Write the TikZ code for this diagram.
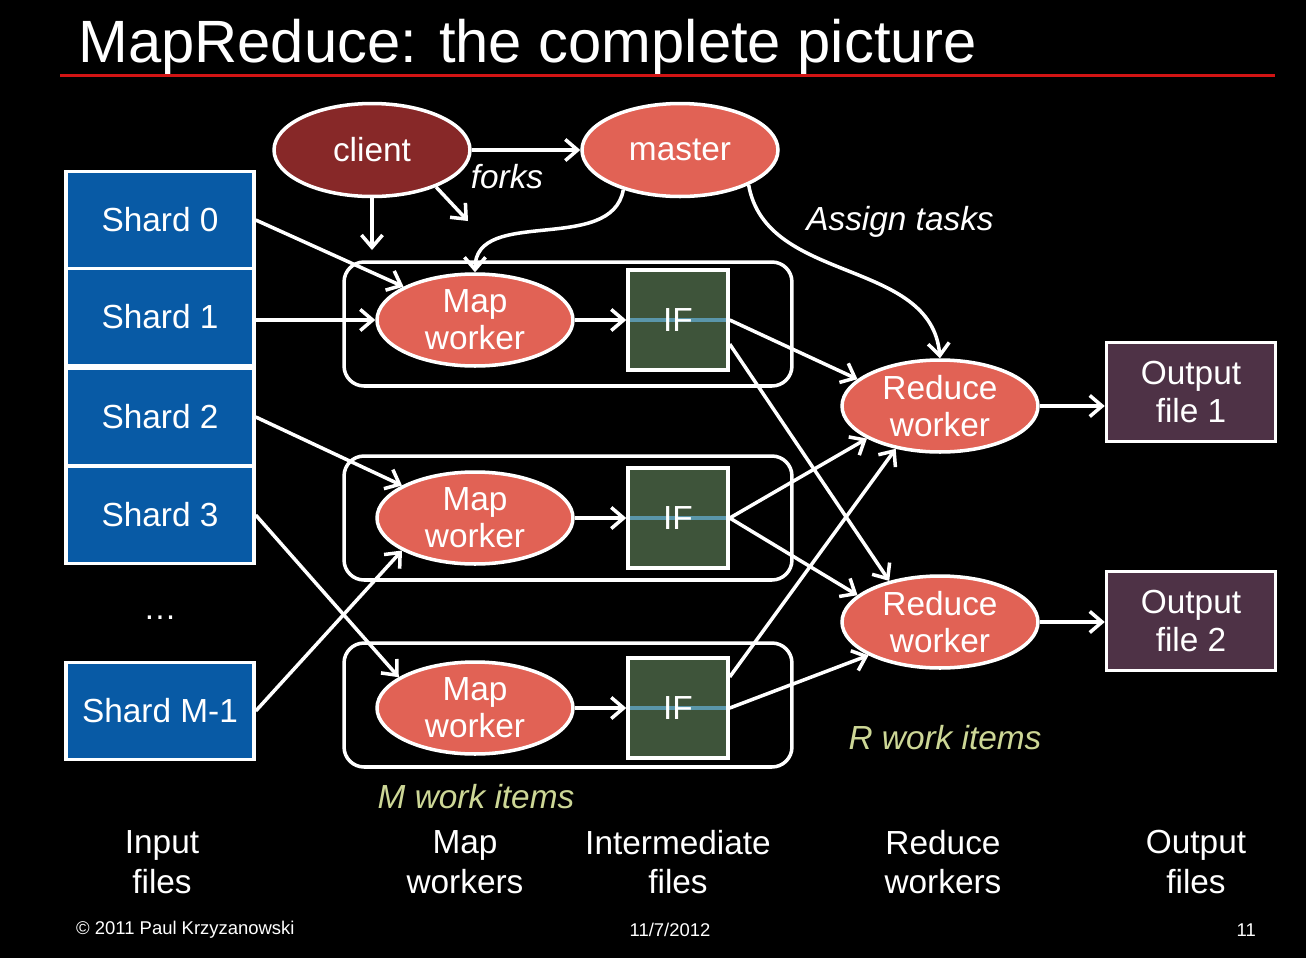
\documentclass[tikz,border=0pt]{standalone}
\usepackage{fontspec}
\setmainfont{Liberation Sans}
\usetikzlibrary{shapes.geometric,arrows.meta}
\definecolor{shardblue}{RGB}{8,90,165}
\definecolor{clientred}{RGB}{135,40,40}
\definecolor{salmon}{RGB}{225,98,85}
\definecolor{ifgreen}{RGB}{62,84,58}
\definecolor{ifline}{RGB}{90,150,170}
\definecolor{outpurple}{RGB}{78,50,70}
\definecolor{rule}{RGB}{210,20,20}
\definecolor{items}{RGB}{205,215,150}
\newcommand{\bodyfont}{\fontsize{19}{21}\selectfont}
\tikzset{flow/.style={white,line width=2pt,-{Straight Barb[length=7pt,width=12pt]}}}
\tikzset{shard/.style={draw=white,line width=2pt,fill=shardblue,minimum width=3.76cm,minimum height=1.94cm,inner sep=0,text=white,font=\bodyfont}}
\tikzset{blob/.style={ellipse,draw=white,line width=2pt,fill=salmon,minimum width=3.92cm,minimum height=1.84cm,inner sep=0,text=white,align=center,font=\bodyfont}}
\tikzset{group/.style={draw=white,line width=2pt,rounded corners=0.4cm,minimum width=8.96cm,minimum height=2.48cm}}
\tikzset{ifbox/.style={draw=white,line width=2pt,fill=ifgreen,minimum size=2cm,inner sep=0,text=white,font=\bodyfont,
  path picture={\draw[ifline,line width=2.6pt] (path picture bounding box.west) -- (path picture bounding box.east);}}}
\tikzset{outbox/.style={draw=white,line width=2pt,fill=outpurple,minimum width=3.38cm,minimum height=1.98cm,inner sep=0,text=white,align=center,font=\fontsize{19}{22}\selectfont}}
\tikzset{caption/.style={text=white,align=center,font=\fontsize{19}{22.7}\selectfont}}

\begin{document}
\begin{tikzpicture}[x=0.02cm,y=-0.02cm]
	\fill [black] (0,0) rectangle (1306,958);
	\node [anchor=base west,inner sep=0,text=white,font=\fontsize{34}{40}\selectfont] (title) at (78,62) {MapReduce: the complete picture};
	\draw [rule,line width=1.7pt] (60,75) -- (1275,75);

	% the three map groups
	\node [group] (g1) at (568,324) {};
	\node [group] (g2) at (568,518) {};
	\node [group] (g3) at (568,705) {};

	\node [shard] (s0) at (160,220) {Shard 0};
	\node [shard] (s1) at (160,317) {Shard 1};
	\node [shard] (s2) at (160,417) {Shard 2};
	\node [shard] (s3) at (160,515) {Shard 3};
	\node [text=white,font=\bodyfont] (dots) at (160,618) {…};
	\node [shard] (sm) at (160,711) {Shard M-1};

	\node [blob,fill=clientred,minimum height=1.86cm] (client) at (372,150) {client};
	\node [blob,minimum height=1.86cm] (master) at (680,150) {master};
	\coordinate (fk1) at (372,250);
	\coordinate (fk2) at (468,221);
	\node [text=white,font=\bodyfont\itshape] (forks) at (507,177) {forks};
	\node [text=white,font=\bodyfont\itshape] (assign) at (900,222) {Assign tasks};

	\node [blob] (map1) at (475,320) {Map\\worker};
	\node [blob] (map2) at (475,518) {Map\\worker};
	\node [blob] (map3) at (475,708) {Map\\worker};
	\node [ifbox] (if1) at (678,320) {IF};
	\node [ifbox] (if2) at (678,518) {IF};
	\node [ifbox] (if3) at (678,708) {IF};
	\node [blob] (red1) at (940,406) {Reduce\\worker};
	\node [blob] (red2) at (940,622) {Reduce\\worker};
	\node [outbox] (out1) at (1191,392) {Output\\file 1};
	\node [outbox] (out2) at (1191,621) {Output\\file 2};

	\node [text=items,font=\bodyfont\itshape] (ritems) at (945,738) {R work items};
	\node [text=items,font=\bodyfont\itshape] (mitems) at (476,797) {M work items};

	\draw [flow] (client.east) -- (master.west);
	\draw [flow] (client.south) -- (fk1);
	\draw [flow] (client.-30) -- (fk2);
	\draw [flow] (master.215) to[out=-100,in=90] (map1.north);
	\draw [flow] (master.-27) to[out=-80,in=95] (red1.north);

	\draw [flow] (s0.east) -- (map1.155);
	\draw [flow] (map1.west -| s1.east) -- (map1.west);
	\draw [flow] (s2.east) -- (map2.156);
	\draw [flow] (s3.east) -- (map3.158);
	\draw [flow] (sm.east) -- (map2.204);
	\draw [flow] (map1.east) -- (if1.west);
	\draw [flow] (map2.east) -- (if2.west);
	\draw [flow] (map3.east) -- (if3.west);

	\draw [flow] (if1.east) -- (red1.162);
	\draw [flow] (if1.-25) -- (red2.141);
	\draw [flow] (if2.east) -- (red1.204);
	\draw [flow] (if2.east) -- (red2.162);
	\draw [flow] (if3.31) -- (red1.224);
	\draw [flow] (if3.east) -- (red2.205);
	\draw [flow] (red1.east) -- (red1.east -| out1.west);
	\draw [flow] (red2.east) -- (red2.east -| out2.west);

	\node [caption] (cin) at (162,862) {Input\\files};
	\node [caption] (cmap) at (465,862) {Map\\workers};
	\node [caption] (cif) at (678,862) {Intermediate\\files};
	\node [caption] (cred) at (943,862) {Reduce\\workers};
	\node [caption] (cout) at (1196,862) {Output\\files};

	\node [anchor=west,text=white,font=\fontsize{10.5}{12}\selectfont] (copy) at (70,930) {© 2011 Paul Krzyzanowski};
	\node [text=white,font=\fontsize{10.5}{12}\selectfont] (date) at (670,930) {11/7/2012};
	\node [anchor=east,text=white,font=\fontsize{10.5}{12}\selectfont] (page) at (1262,930) {11};
\end{tikzpicture}
\end{document}
